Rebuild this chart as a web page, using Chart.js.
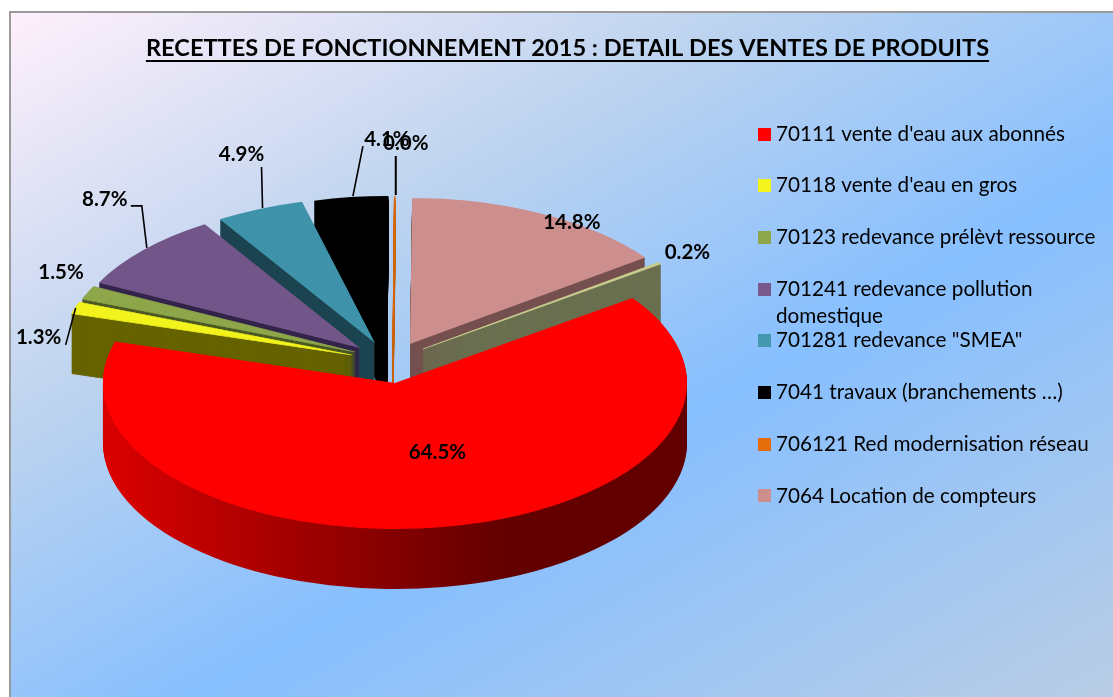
<!DOCTYPE html>
<html lang="fr">
<head>
<meta charset="utf-8">
<style>html,body{margin:0;padding:0;background:#fff}canvas{display:block}</style>
<script src="https://cdn.jsdelivr.net/npm/chart.js@4"></script>
</head>
<body>
<canvas id="c" width="1113" height="697"></canvas>
<script>
// ---- data ----
const TITLE = "RECETTES DE FONCTIONNEMENT 2015 : DETAIL DES VENTES DE PRODUITS";
const CATEGORIES = [
  "70111 vente d'eau aux abonnés",
  "70118 vente d'eau en gros",
  "70123 redevance prélèvt ressource",
  "701241 redevance pollution domestique",
  "701281 redevance \"SMEA\"",
  "7041 travaux (branchements …)",
  "706121 Red modernisation réseau",
  "7064 Location de compteurs",
  ""
];
const VALUES = [64.5, 1.3, 1.5, 8.7, 4.9, 4.1, 0.04, 14.8, 0.2];

// ---- styles ----
const TOP_COLORS  = ["#ff0000","#f2f21c","#8ea64a","#72568a","#3e92aa","#000000","#e46c0a","#cd8f8d","#c9cc8e"];
const WALL_COLORS = [null,"#666300","#4c5a24","#33254a","#1c4450","#000000","#c8640c","#75504f","#6a7050"];
const LEGEND_COLORS = ["#ff0000","#f4f41c","#8ea64a","#78598c","#4397ae","#000000","#e46c0a","#cd8f8d"];
const SHIFT_X = [0,-43,-40,-35,-20,-8,-2,15,28];
const SHIFT_Y = [0,-28,-31,-35,-40,-41,-41,-39,-34];
const DRAW_ORDER = [5,6,4,3,2,1,7,8,0];
const EDGE_WIDTHS = [0,1.5,1.5,0,0,0,0.4,0,1.5];
const LABEL_DX = [-6,-37,-27,-39,-18,36,11,29,28];
const LABEL_DY = [-75,30,-20,-50,-55,-58,-53,8,-11];
const LEADERS = [null,[[0,0],[-10,37]],null,[[3,-2],[-2,-44],[-13,-44]],[[3,-1],[2,-42]],[[2,-1],[12,-51]],[[1,-1],[1,-40]],null,null];
const CX = 395, CY = 383, R = 292, SQUASH = 0.5, DEPTH = 60;
const LEGEND_X = 763.35, LEGEND_FIRST_Y = 123.65, LEGEND_SIZE = 20.7, LEGEND_STEP = 51.7;

function swatch(color){
  const s = document.createElement('canvas'); s.width = 13; s.height = 13;
  const g = s.getContext('2d'); g.fillStyle = color; g.fillRect(0,0,13,13);
  return s;
}
const SWATCHES = LEGEND_COLORS.map(swatch);

function drawSliceAt(ctx, el, i, layer, fill){
  const saved = el.options;
  el.options = Object.assign({}, saved, {backgroundColor: fill, borderColor: fill, borderWidth: EDGE_WIDTHS[i]});
  ctx.save();
  ctx.translate(CX + SHIFT_X[i], CY + SHIFT_Y[i] + layer);
  ctx.scale(1, SQUASH);
  ctx.translate(-el.x, -el.y);
  el.draw(ctx);
  ctx.restore();
  el.options = saved;
}

const scene = {
  id: 'scene',
  beforeDraw(chart){
    const ctx = chart.ctx;
    ctx.save();
    ctx.fillStyle = '#fff';
    ctx.fillRect(0,0,1113,697);
    const g = ctx.createLinearGradient(10,12,575,1004);
    g.addColorStop(0,'#fff0fb');
    g.addColorStop(0.32,'#bcd3ef');
    g.addColorStop(0.6,'#87bfff');
    g.addColorStop(1,'#b9cde5');
    ctx.fillStyle = g;
    ctx.fillRect(10,12,1103,685);
    ctx.fillStyle = '#9a9a9a';
    ctx.fillRect(9,12,2,685);
    ctx.fillRect(9,11,1104,2);
    ctx.restore();
  },
  afterLayout(chart){
    const lg = chart.legend, p = lg.options.labels.padding;
    lg.left = LEGEND_X - p;
    lg.top = LEGEND_FIRST_Y - p;
    lg.right = 1113;
  },
  beforeDatasetDraw(chart){
    const ctx = chart.ctx;
    const arcs = chart.getDatasetMeta(0).data;
    DRAW_ORDER.forEach(i => {
      const el = arcs[i];
      let wall = WALL_COLORS[i];
      if (i === 0) {
        wall = ctx.createLinearGradient(el.x - R, 0, el.x + 110, 0);
        wall.addColorStop(0,'#dc0000');
        wall.addColorStop(1,'#620000');
      }
      for (let d = DEPTH; d >= 1; d--) drawSliceAt(ctx, el, i, d, wall);
      drawSliceAt(ctx, el, i, 0, TOP_COLORS[i]);
    });
    return false;
  },
  afterDraw(chart){
    const ctx = chart.ctx;
    const arcs = chart.getDatasetMeta(0).data;
    ctx.save();
    // title underline
    const tf = chart.options.plugins.title.font;
    ctx.font = tf.weight + ' ' + tf.size + 'px Lato';
    const tw = ctx.measureText(TITLE).width, tc = 567.5;
    ctx.fillStyle = '#000';
    ctx.fillRect(tc - tw/2, 60, tw, 2);
    // wrapped legend line
    ctx.font = LEGEND_SIZE + 'px Lato';
    ctx.textBaseline = 'middle'; ctx.textAlign = 'left';
    ctx.fillStyle = '#000';
    ctx.fillText('domestique', 776, 316);
    // data labels and leader lines
    ctx.strokeStyle = '#000';
    arcs.forEach((el,i) => {
      const mid = (el.startAngle + el.endAngle)/2;
      const ax = CX + SHIFT_X[i] + Math.cos(mid)*R;
      const ay = CY + SHIFT_Y[i] + Math.sin(mid)*R*SQUASH;
      if (LEADERS[i]) {
        ctx.lineWidth = i === 6 ? 2 : 1.6;
        ctx.beginPath();
        LEADERS[i].forEach((q,k) => k ? ctx.lineTo(ax+q[0], ay+q[1]) : ctx.moveTo(ax+q[0], ay+q[1]));
        ctx.stroke();
      }
      ctx.font = 'bold 20.5px Lato';
      ctx.textAlign = 'center';
      ctx.fillStyle = '#000';
      ctx.fillText(VALUES[i].toFixed(1) + '%', ax + LABEL_DX[i], ay + LABEL_DY[i]);
    });
    ctx.restore();
  }
};

new Chart(document.getElementById('c'), {
  type: 'pie',
  data: {
    labels: CATEGORIES,
    datasets: [{ data: VALUES, backgroundColor: TOP_COLORS, borderWidth: 0, radius: R, rotation: 54.4, hoverOffset: 0 }]
  },
  options: {
    responsive: false,
    animation: false,
    events: [],
    layout: { padding: { left: 22, top: 34, right: 0, bottom: 0 } },
    plugins: {
      tooltip: { enabled: false },
      title: {
        display: true, text: TITLE, color: '#000', align: 'center',
        font: { family: 'Lato', size: 23.6, weight: 'bold' }, padding: 0
      },
      legend: {
        position: 'right', align: 'start',
        labels: {
          font: { family: 'Lato', size: LEGEND_SIZE },
          color: '#000',
          padding: LEGEND_STEP - LEGEND_SIZE,
          boxHeight: 13,
          usePointStyle: true,
          pointStyleWidth: 2.3,
          generateLabels(){
            return CATEGORIES.map((c,i) => ({
              text: c.replace(' domestique',''),
              pointStyle: SWATCHES[i], fillStyle: LEGEND_COLORS[i], strokeStyle: LEGEND_COLORS[i],
              lineWidth: 0, hidden: false, index: i
            })).filter(x => x.text);
          }
        }
      }
    }
  },
  plugins: [scene]
});
</script>
</body>
</html>
